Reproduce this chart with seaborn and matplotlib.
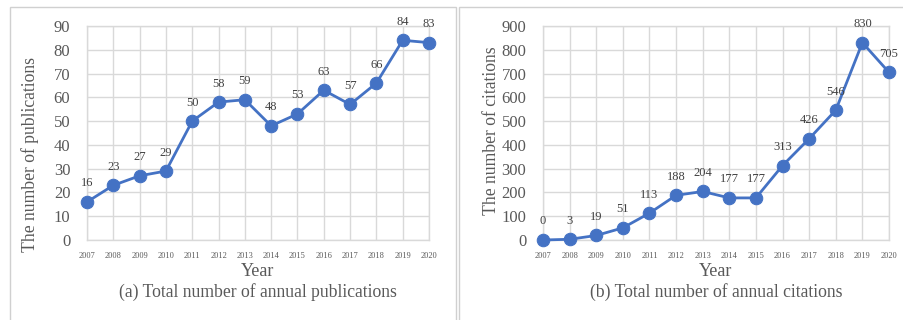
import numpy as np
import pandas as pd
import matplotlib
matplotlib.use("Agg")
import matplotlib.pyplot as plt
import seaborn as sns
from matplotlib.patches import Rectangle

sns.set_theme(style="whitegrid")
plt.rcParams['font.family'] = ['Liberation Serif', 'DejaVu Serif']

years = list(range(2007, 2021))
publications = [16, 23, 27, 29, 50, 58, 59, 48, 53, 63, 57, 66, 84, 83]
citations = [0, 3, 19, 51, 113, 188, 204, 177, 177, 313, 426, 546, 830, 705]

blue = "#4472C4"
grid_c = "#d9d9d9"
text_c = "#595959"

W, H = 904, 320
fig = plt.figure(figsize=(W / 100, H / 100), dpi=100)

# panel frames
fig.patches.append(Rectangle((10 / W, -0.1), 446 / W, 1.1 - 7 / H, transform=fig.transFigure,
                             fill=False, edgecolor="#d0d0d0", lw=1))
fig.patches.append(Rectangle((459 / W, -0.1), 460 / W, 1.1 - 7 / H, transform=fig.transFigure,
                             fill=False, edgecolor="#d0d0d0", lw=1))


def panel(x0, x1, values, ymax, step, ylabel, ylab_pos, caption):
    ax = fig.add_axes([x0 / W, 80 / H, (x1 - x0) / W, 214 / H])
    df = pd.DataFrame({"year": years, "value": values})
    sns.lineplot(data=df, x="year", y="value", ax=ax, color=blue, lw=2,
                 marker="o", markersize=9, markeredgecolor=blue, clip_on=False, zorder=3)
    ax.set_xlim(2007, 2020)
    ax.set_ylim(0, ymax)
    ax.set_xticks(years)
    ax.set_xticklabels([str(y) for y in years], fontsize=6, color=text_c)
    ax.set_yticks(np.arange(0, ymax + 1, step))
    ax.tick_params(axis="y", labelsize=12, labelcolor=text_c, pad=6)
    ax.tick_params(axis="x", pad=3)
    ax.grid(True, color=grid_c, lw=1)
    for s in ax.spines.values():
        s.set_color(grid_c)
        s.set_linewidth(1)
    ax.set_xlabel("")
    ax.set_ylabel("")
    for x, v in zip(years, values):
        ax.annotate(str(v), (x, v), xytext=(0, 9), textcoords="offset points",
                    ha="center", va="bottom", fontsize=9, color="#404040")
    cx = (x0 + x1) / 2 / W
    fig.text(cx, 1 - 271 / H, "Year", ha="center", va="center", fontsize=13, color=text_c)
    fig.text(cx, 1 - 292 / H, caption, ha="center", va="center", fontsize=12.7, color=text_c)
    fig.text(ylab_pos[0] / W, 1 - ylab_pos[1] / H, ylabel, rotation=90,
             ha="center", va="center", fontsize=12.7, color=text_c)
    return ax


panel(87, 429, publications, 90, 10, "The number of publications", (30, 155),
      "(a) Total number of annual publications")
panel(543, 889, citations, 900, 100, "The number of citations", (492, 131),
      "(b) Total number of annual citations")

fig.savefig("out.png", dpi=100, facecolor="white")
